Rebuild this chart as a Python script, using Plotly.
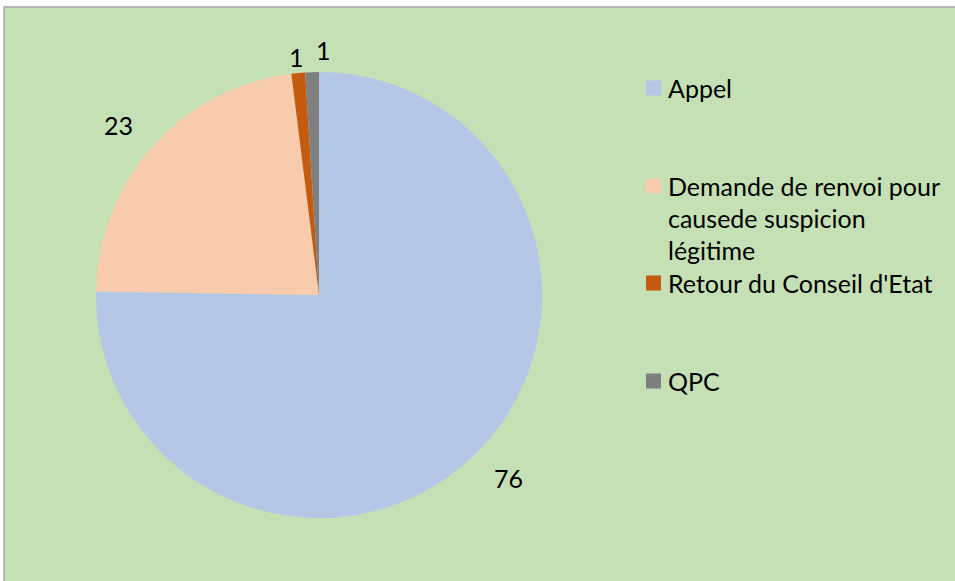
import math
import plotly.graph_objects as go

labels = ["Appel", "Demande de renvoi pour causede suspicion légitime", "Retour du Conseil d'Etat", "QPC"]
values = [76, 23, 1, 1]
colors = ["#B4C7E7", "#F8CBAD", "#C55A11", "#7F7F7F"]
legend_lines = [["Appel"], ["Demande de renvoi pour", "causede suspicion", "légitime"], ["Retour du Conseil d'Etat"], ["QPC"]]

# label placement style (radius factor, angular nudge in degrees)
label_radius = [1.18, 1.18, 1.07, 1.10]
label_nudge = [-1.5, -1.5, 0, 2.8]

W, H = 955, 581
FONT = "Lato"
FS = 25

def px(x):
    return x / W

def py(y):
    return 1 - y / H

# pie domain in pixels
DX0, DX1, DY0, DY1 = 96, 542, 72, 518
CX, CY = (DX0 + DX1) / 2, (DY0 + DY1) / 2
R = min(DX1 - DX0, DY1 - DY0) / 2

fig = go.Figure(go.Pie(
    labels=labels, values=values, sort=False, direction="clockwise", rotation=0,
    marker=dict(colors=colors, line=dict(width=0)),
    textinfo="none",
    domain=dict(x=[px(DX0), px(DX1)], y=[py(DY1), py(DY0)]),
    showlegend=False, hoverinfo="label+value",
))

shapes = [dict(type="rect", xref="paper", yref="paper", x0=px(4), x1=px(965), y0=py(7), y1=py(600),
               fillcolor="#C5E0B4", line=dict(color="#A6A6A6", width=1.5), layer="below")]
annotations = []

# data labels placed at each slice's mid angle (clockwise from 12 o'clock)
total = sum(values)
cum = 0
for i, v in enumerate(values):
    mid = (cum + v / 2) / total * 360 + label_nudge[i]
    cum += v
    a = math.radians(mid)
    lx = CX + R * label_radius[i] * math.sin(a)
    ly = CY - R * label_radius[i] * math.cos(a)
    annotations.append(dict(text=str(v), xref="paper", yref="paper", x=px(lx), y=py(ly),
                            xanchor="center", yanchor="middle", showarrow=False,
                            font=dict(family=FONT, size=FS, color="#000000")))

entry_y = [88, 186, 283, 381]
line_gap = 32
for i, lines in enumerate(legend_lines):
    y0 = entry_y[i]
    shapes.append(dict(type="rect", xref="paper", yref="paper", x0=px(646), x1=px(661),
                       y0=py(y0 + 7.5), y1=py(y0 - 7.5), fillcolor=colors[i], line=dict(width=0)))
    for j, t in enumerate(lines):
        annotations.append(dict(text=t, xref="paper", yref="paper", x=px(666), y=py(y0 + j * line_gap),
                                xanchor="left", yanchor="middle", showarrow=False,
                                font=dict(family=FONT, size=FS, color="#000000")))

fig.update_layout(
    width=W, height=H, margin=dict(l=0, r=0, t=0, b=0),
    paper_bgcolor="#FFFFFF", plot_bgcolor="#FFFFFF",
    shapes=shapes, annotations=annotations,
)
fig.write_html("out.html", config={"displayModeBar": False},
               post_script="document.body.style.margin='0';")
